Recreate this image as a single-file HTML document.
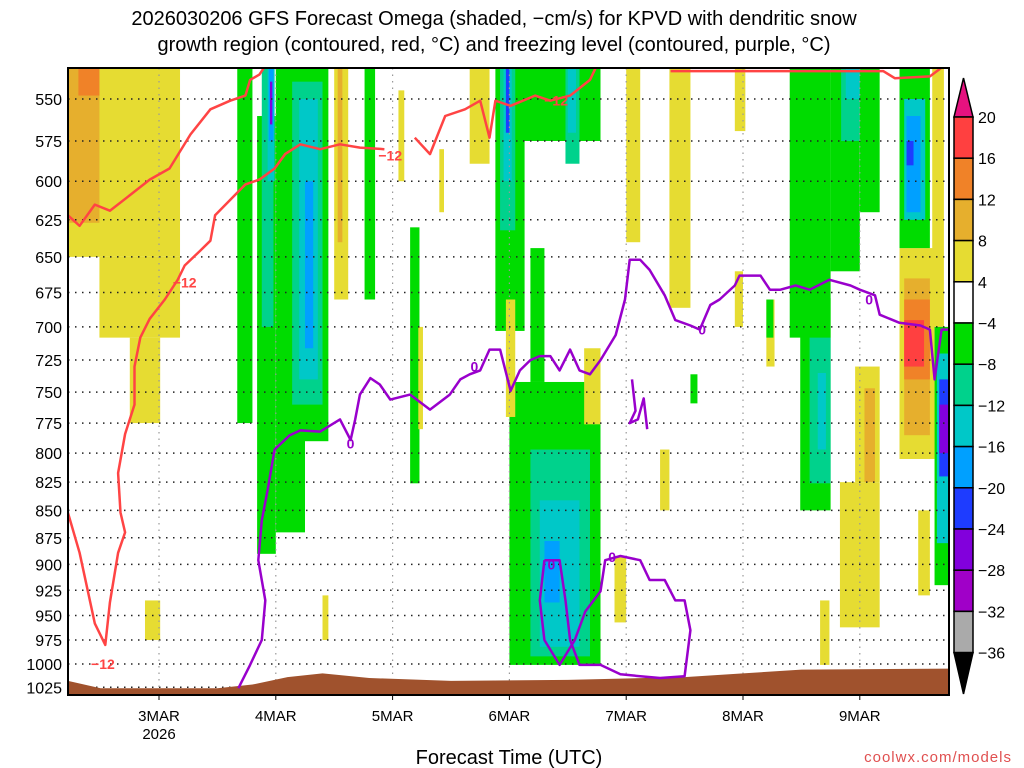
<!DOCTYPE html>
<html><head><meta charset="utf-8"><style>
html,body{margin:0;padding:0;background:#fff;width:1024px;height:768px;overflow:hidden}
svg{display:block;font-family:"Liberation Sans",sans-serif}
</style></head><body>
<svg id="chart" width="1024" height="768" viewBox="0 0 1024 768" xmlns="http://www.w3.org/2000/svg">
<text x="494" y="25" font-size="20" text-anchor="middle">2026030206 GFS Forecast Omega (shaded, −cm/s) for KPVD with dendritic snow</text>
<text x="494" y="51" font-size="20" text-anchor="middle">growth region (contoured, red, °C) and freezing level (contoured, purple, °C)</text>
<text x="509" y="764" font-size="20" text-anchor="middle">Forecast Time (UTC)</text>
<text x="1012" y="762" font-size="15" text-anchor="end" fill="#e05050" letter-spacing="1">coolwx.com/models</text>
<g id="plot"></g>
<g id="cbar"></g>
</svg>
<script>
const pressureTicks=[550,575,600,625,650,675,700,725,750,775,800,825,850,875,900,925,950,975,1000,1025];
const dayTicks=[3,4,5,6,7,8,9];
const dayLabels=["3MAR","4MAR","5MAR","6MAR","7MAR","8MAR","9MAR"];
const cbarLevels=[20,16,12,8,4,-4,-8,-12,-16,-20,-24,-28,-32,-36];
const cbarColors=["#ff4040","#f08228","#e6af2d","#e6dc32","#ffffff","#00dc00","#00d28c","#00c8c8","#00a0ff","#1e3cff","#8200dc","#a000c8","#aaaaaa"];
const levelKeys=[4,8,12,16,-4,-8,-12,-16,-20,-24];
const levelFill=["#e6dc32","#e6af2d","#f08228","#ff4040","#00dc00","#00d28c","#00c8c8","#00a0ff","#1e3cff","#8200dc"];
// blobs: [tStart,tEnd,pTop,pBottom,level]
const omegaBlobs=[
[2.22,3.18,532,650,4],[2.49,3.18,650,708,4],[2.75,3.01,708,775,4],[2.22,2.49,532,627,8],[2.31,2.49,532,548,12],[2.88,3.01,935,975,4],
[3.67,3.80,532,775,-4],[3.84,4.0,560,890,-4],[4.0,4.25,532,870,-4],[4.25,4.45,532,790,-4],[3.88,3.98,532,700,-8],[3.93,3.99,532,600,-12],[3.94,3.98,532,575,-16],[3.95,3.97,540,565,-24],
[4.14,4.4,540,760,-8],[4.2,4.36,550,740,-12],[4.25,4.32,600,716,-16],
[4.5,4.62,532,680,4],[4.53,4.57,532,640,8],[4.76,4.85,532,680,-4],[5.15,5.23,630,826,-4],[4.4,4.45,930,975,4],[5.05,5.1,545,600,4],[5.22,5.26,700,780,4],[5.4,5.44,580,620,4],
[5.66,5.83,532,589,4],[5.88,6.13,532,703,-4],[5.92,6.05,532,632,-8],[5.95,6.02,532,600,-12],[5.97,6.0,532,570,-20],
[6.1,6.78,532,575,-4],[6.48,6.6,532,589,-8],[6.5,6.57,532,570,-12],
[6.0,6.78,742,1001,-4],[6.18,6.69,797,992,-8],[6.26,6.6,841,982,-12],[6.3,6.43,878,937,-16],[6.18,6.3,644,742,-4],
[5.97,6.05,680,770,4],[6.64,6.78,716,776,4],[6.9,7.0,893,957,4],[7.29,7.37,797,850,4],[7.55,7.61,736,759,-4],
[7.37,7.55,532,686,4],[7.93,8.02,532,569,4],[7.0,7.12,532,640,4],[7.93,8.0,660,700,4],
[8.4,8.75,532,708,-4],[8.49,8.75,679,850,-4],[8.57,8.75,708,826,-8],[8.64,8.71,735,797,-12],
[8.75,9.0,532,660,-4],[8.84,9.0,532,575,-8],[8.88,9.0,532,550,-12],[9.0,9.17,532,620,-4],
[8.83,9.17,825,962,4],[8.96,9.17,730,825,4],[9.04,9.13,747,825,8],[8.66,8.74,935,1001,4],[8.2,8.27,680,730,4],[8.2,8.26,680,708,-4],
[9.34,9.64,644,805,4],[9.38,9.6,665,785,8],[9.38,9.6,680,740,12],[9.38,9.55,695,730,16],
[9.34,9.6,532,644,-4],[9.38,9.56,550,625,-12],[9.4,9.52,560,620,-16],[9.4,9.46,575,590,-20],
[9.62,9.72,532,700,4],[9.64,9.76,700,920,-4],[9.66,9.76,720,880,-12],[9.68,9.76,740,820,-20],[9.68,9.76,760,800,-24],[9.5,9.6,850,930,4]
];
const redLineA=[[2.22,852],[2.32,889],[2.45,958],[2.54,980],[2.58,937],[2.65,889],[2.71,870],[2.67,852],[2.65,817],[2.71,784],[2.79,760],[2.79,730],[2.84,708],[2.92,694],[3.05,680],[3.16,666],[3.22,656],[3.35,646],[3.44,639],[3.48,622],[3.61,612],[3.74,602],[3.86,599],[3.99,592],[4.08,583],[4.21,577],[4.38,580],[4.55,577],[4.72,579],[4.93,580]];
const redLineB=[[2.22,622],[2.32,629],[2.45,615],[2.58,619],[2.75,609],[2.92,599],[3.09,592],[3.27,571],[3.44,556],[3.61,551],[3.74,548],[3.78,539],[3.86,536],[3.9,532]];
const redLineC=[[5.19,573],[5.32,583],[5.45,560],[5.62,556],[5.75,551],[5.83,573],[5.88,551],[6.01,554],[6.22,548],[6.35,551],[6.52,548],[6.69,539],[6.74,532]];
const redLineD=[[7.38,534],[9.2,534],[9.3,538],[9.6,537],[9.7,532]];
const redLabels=[[3.22,668],[2.52,1000],[4.98,584],[6.4,551]];
const purpleLine=[[3.68,1026],[3.78,1001],[3.88,975],[3.91,935],[3.85,896],[3.88,859],[3.93,832],[3.99,797],[4.12,785],[4.21,781],[4.38,782],[4.55,772],[4.64,789],[4.68,772],[4.72,752],[4.81,739],[4.89,744],[4.98,756],[5.15,752],[5.32,764],[5.49,752],[5.58,740],[5.66,736],[5.75,733],[5.83,717],[5.92,717],[6.01,749],[6.09,733],[6.18,725],[6.26,722],[6.35,722],[6.43,733],[6.52,717],[6.6,733],[6.69,736],[6.78,725],[6.91,706],[6.99,680],[7.03,652],[7.12,652],[7.2,659],[7.33,677],[7.42,695],[7.55,699],[7.63,702],[7.72,684],[7.8,680],[7.93,670],[7.97,663],[8.15,663],[8.23,673],[8.32,673],[8.45,670],[8.57,673],[8.74,666],[8.92,670],[9.0,673],[9.13,677],[9.17,691],[9.34,697],[9.52,699],[9.6,702],[9.64,740],[9.7,702],[9.76,702]];
const purpleLoop=[[6.3,896],[6.26,935],[6.3,975],[6.43,1001],[6.56,975],[6.65,946],[6.78,926],[6.82,896],[6.95,892],[7.12,896],[7.2,915],[7.33,915],[7.42,935],[7.5,935],[7.55,965],[7.5,1013],[7.29,1015],[7.12,1013],[6.95,1011],[6.78,1001],[6.6,1001],[6.52,975],[6.48,935],[6.43,896],[6.3,896]];
const purpleSmall=[[7.05,740],[7.08,765],[7.03,775],[7.1,772],[7.15,755],[7.18,780]];
const purpleLabels=[[4.64,792],[5.7,730],[7.65,702],[9.08,680],[6.88,893],[6.36,900]];
const surfaceP=[[2.22,1018],[2.5,1026],[3.5,1026],[3.8,1022],[4.1,1014],[4.4,1010],[4.8,1015],[5.5,1018],[6.5,1017],[7.5,1014],[8.0,1010],[8.5,1006],[9.76,1005]];

const NS="http://www.w3.org/2000/svg";
const L=68,R=949,T=68,B=695;
const x=t=>159+(t-3)*116.8;
const y=p=>99+945*Math.log(p/550);
function mk(tag,attrs,parent){const e=document.createElementNS(NS,tag);for(const k in attrs)e.setAttribute(k,attrs[k]);parent.appendChild(e);return e;}
const plot=document.getElementById('plot');
const cl=mk('clipPath',{id:'clip'},plot);mk('rect',{x:L,y:T,width:R-L,height:B-T},cl);
const inner=mk('g',{'clip-path':'url(#clip)'},plot);
mk('rect',{x:L,y:T,width:R-L,height:B-T,fill:'#fff'},inner);
omegaBlobs.forEach(b=>{
 const r=mk('rect',{x:x(b[0]),y:y(b[2]),width:x(b[1])-x(b[0]),height:y(b[3])-y(b[2]),fill:levelFill[levelKeys.indexOf(b[4])]},inner);
 
 
});
// grid
pressureTicks.forEach(p=>{const g=mk('line',{x1:L,x2:R,y1:y(p),y2:y(p),stroke:'#222','stroke-width':1.5,'stroke-dasharray':'1.5 5.5'},inner);
 });
dayTicks.forEach(d=>{const g=mk('line',{x1:x(d),x2:x(d),y1:T,y2:B,stroke:'#999','stroke-width':1.2,'stroke-dasharray':'1.5 5'},inner);
 });
// ground
let gd='M'+x(surfaceP[0][0])+','+B;surfaceP.forEach(s=>gd+=' L'+x(s[0])+','+y(s[1]));gd+=' L'+R+','+B+'Z';
const ground=mk('path',{d:gd,fill:'#a0522d'},inner);

function line(pts,col,name){let d='';pts.forEach((q,i)=>d+=(i?' L':'M')+x(q[0]).toFixed(1)+','+y(q[1]).toFixed(1));
 const e=mk('path',{d:d,fill:'none',stroke:col,'stroke-width':2.5,'stroke-linejoin':'round'},inner);
 }
line(redLineA,'#ff4444','dgz-contour-lower');line(redLineB,'#ff4444','dgz-contour-upper');line(redLineC,'#ff4444','dgz-contour-mid');line(redLineD,'#ff4444','dgz-contour-top');
line(purpleLine,'#9900cc','freezing-level-contour');line(purpleLoop,'#9900cc','freezing-level-loop');line(purpleSmall,'#9900cc','freezing-level-fragment');
redLabels.forEach(q=>{const t=mk('text',{x:x(q[0]),y:y(q[1])+5,'font-size':14,'font-weight':'bold',fill:'#ff4444','text-anchor':'middle'},inner);t.textContent='−12';
 });
purpleLabels.forEach(q=>{const t=mk('text',{x:x(q[0]),y:y(q[1])+5,'font-size':14,'font-weight':'bold',fill:'#9900cc','text-anchor':'middle'},inner);t.textContent='0';
 });
const fr=mk('rect',{x:L,y:T,width:R-L,height:B-T,fill:'none',stroke:'#000','stroke-width':2},plot);

pressureTicks.forEach(p=>{const t=mk('text',{x:62,y:y(p)+6,'font-size':16,'text-anchor':'end'},plot);t.textContent=p;
 });
dayTicks.forEach((d,i)=>{mk('line',{x1:x(d),x2:x(d),y1:B,y2:B+5,stroke:'#000','stroke-width':1},plot);
 const t=mk('text',{x:x(d),y:721,'font-size':15,'text-anchor':'middle'},plot);t.textContent=dayLabels[i];
 });
const yr=mk('text',{x:x(3),y:739,'font-size':15,'text-anchor':'middle'},plot);yr.textContent='2026';

// colorbar
const cb=document.getElementById('cbar');const cx=954,cw=19,ct=117,ch=41.2;
const up=mk('polygon',{points:`${cx},${ct} ${cx+cw},${ct} ${cx+cw/2},78`,fill:'#e6127f',stroke:'#000','stroke-width':1.5},cb);

cbarColors.forEach((c,i)=>{const r=mk('rect',{x:cx,y:ct+i*ch,width:cw,height:ch,fill:c,stroke:'#000','stroke-width':1.5},cb);
 });
const bot=ct+cbarColors.length*ch;
const dn=mk('polygon',{points:`${cx},${bot} ${cx+cw},${bot} ${cx+cw/2},694`,fill:'#000',stroke:'#000','stroke-width':1.5},cb);

cbarLevels.forEach((v,i)=>{const t=mk('text',{x:978,y:ct+i*ch+6,'font-size':16},cb);t.textContent=v<0?'−'+(-v):v;
 });
</script>
</body></html>
